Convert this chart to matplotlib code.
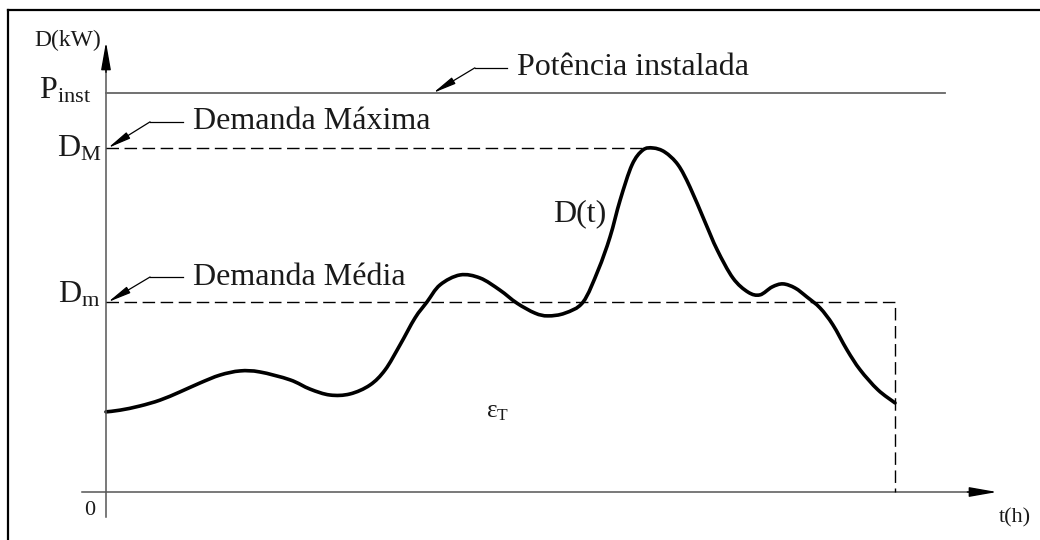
import matplotlib
matplotlib.use("Agg")
import matplotlib.pyplot as plt
from matplotlib.lines import Line2D
from matplotlib.path import Path
from matplotlib.patches import PathPatch

plt.rcParams["font.family"] = ["Liberation Serif", "DejaVu Serif"]
plt.rcParams["mathtext.fontset"] = "custom"
plt.rcParams["mathtext.rm"] = "Liberation Serif"
plt.rcParams["mathtext.it"] = "Liberation Serif:italic"

# load curve: t in hours, D in kW (D_M = 100)
t_hours = [0.00, 0.43, 1.03, 1.64, 2.25, 2.86, 3.47, 4.08, 4.68, 5.60,
           6.21, 6.81, 7.42, 8.03, 8.49, 8.94, 9.40, 9.76, 10.16, 10.77,
           11.38, 11.98, 12.50, 13.05, 13.44, 13.96, 14.51, 14.97, 15.33, 15.64,
           16.00, 16.33, 16.64, 17.00, 17.40, 17.76, 18.22, 18.59, 19.07, 19.53,
           19.89, 20.26, 20.59, 20.96, 21.32, 21.72, 22.11, 22.54, 22.94, 23.48,
           24.00]
demand = [23.3, 23.8, 25.0, 26.7, 29.1, 31.7, 34.0, 35.2, 34.9, 32.6,
          29.9, 28.2, 28.5, 31.1, 35.5, 42.7, 50.6, 55.2, 60.2, 63.1,
          62.2, 58.7, 54.9, 52.0, 51.2, 52.0, 55.2, 64.5, 74.1, 84.9,
          95.1, 99.4, 100.0, 98.8, 95.1, 88.7, 78.5, 70.4, 62.2, 58.1,
          57.3, 59.6, 60.5, 59.3, 56.7, 53.5, 48.6, 41.3, 35.5, 29.7,
          25.9]

p_inst = 116.0
d_max = 100.0
d_mean = 55.2
t_end = 24.0

ink = "#1a1a1a"
axis_gray = "#555555"


def smooth_path(xs, ys):
    # Catmull-Rom through the read points, drawn as cubic Bezier segments
    pts = list(zip(xs, ys))
    verts = [pts[0]]
    codes = [Path.MOVETO]
    n = len(pts)
    for i in range(n - 1):
        p0 = pts[i - 1] if i > 0 else pts[i]
        p1 = pts[i]
        p2 = pts[i + 1]
        p3 = pts[i + 2] if i + 2 < n else pts[i + 1]
        c1 = (p1[0] + (p2[0] - p0[0]) / 6, p1[1] + (p2[1] - p0[1]) / 6)
        c2 = (p2[0] - (p3[0] - p1[0]) / 6, p2[1] - (p3[1] - p1[1]) / 6)
        verts += [c1, c2, p2]
        codes += [Path.CURVE4] * 3
    return Path(verts, codes)


fig = plt.figure(figsize=(10.4, 5.4), dpi=100)
ax = fig.add_axes([0, 0, 1, 1])
ax.set_xlim(-3.224, 28.41)
ax.set_ylim(-13.95, 143.02)
ax.axis("off")

# frame (only top and left edges are visible)
fig.add_artist(Line2D([0.0077, 1.0], [0.9815, 0.9815], color="black", lw=1.6))
fig.add_artist(Line2D([0.0077, 0.0077], [0.0, 0.9815], color="black", lw=1.6))

# axes with arrows
ax.plot([-0.73, 26.4], [0, 0], color=axis_gray, lw=1.1)
ax.plot([0, 0], [-7.3, 125], color=axis_gray, lw=1.1)
ax.annotate("", xy=(27.1, 0), xytext=(26.2, 0),
            arrowprops=dict(arrowstyle="-|>,head_length=1.7,head_width=0.3",
                            color="black", lw=1.0, mutation_scale=10,
                            shrinkA=0, shrinkB=0))
ax.annotate("", xy=(0, 130.8), xytext=(0, 122),
            arrowprops=dict(arrowstyle="-|>,head_length=1.7,head_width=0.3",
                            color="black", lw=1.0, mutation_scale=10,
                            shrinkA=0, shrinkB=0))

# reference levels
ax.plot([0, 25.52], [p_inst, p_inst], color="#666666", lw=1.3)
dash = (0, (9, 4))
ax.plot([0, 16.64], [d_max, d_max], color="black", lw=1.0, linestyle=dash)
ax.plot([0, t_end, t_end], [d_mean, d_mean, 0], color="black", lw=1.0,
        linestyle=dash)

# demand curve
ax.add_patch(PathPatch(smooth_path(t_hours, demand), facecolor="none",
                       edgecolor="black", lw=2.6, capstyle="round",
                       joinstyle="round"))

# axis labels
ax.text(-0.15, 131.4, "D(kW)", ha="right", va="center", fontsize=17, color=ink)
ax.text(-0.45, 114.5, r"$\mathrm{P_{inst}}$", ha="right", va="baseline",
        fontsize=23, color=ink)
ax.text(-0.12, 97.4, r"$\mathrm{D_{M}}$", ha="right", va="baseline",
        fontsize=23, color=ink)
ax.text(-0.18, 55.2, r"$\mathrm{D_{m}}$", ha="right", va="baseline",
        fontsize=23, color=ink)
ax.text(-0.49, -5.5, "0", ha="center", va="center", fontsize=16, color=ink)
ax.text(27.65, -7.6, "t(h)", ha="center", va="center", fontsize=16, color=ink)
ax.text(14.42, 80.8, "D(t)", ha="center", va="center", fontsize=23, color=ink)
ax.text(11.9, 23.3, r"$\mathrm{ε_{T}}$", ha="center", va="center",
        fontsize=18, color=ink)


def leader(label, tip, elbow, end_t):
    ax.plot([elbow[0], end_t], [elbow[1], elbow[1]], color="black", lw=0.9)
    ax.annotate("", xy=tip, xytext=elbow,
                arrowprops=dict(arrowstyle="-|>,head_length=1.4,head_width=0.22",
                                color="black", lw=0.9, mutation_scale=10,
                                shrinkA=0, shrinkB=0))
    ax.text(end_t + 0.3, elbow[1], label, ha="left", va="center",
            fontsize=23, color=ink)


leader("Potência instalada", (9.95, p_inst), (11.22, 123.3), 12.2)
leader("Demanda Máxima", (0.06, d_max), (1.34, 107.6), 2.34)
leader("Demanda Média", (0.06, d_mean), (1.34, 62.5), 2.34)

fig.savefig("out.png", dpi=100)
